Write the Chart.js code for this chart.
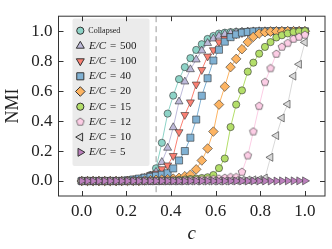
<!DOCTYPE html>
<html>
<head>
<meta charset="utf-8">
<script src="https://cdn.jsdelivr.net/npm/chart.js@4.4.0/dist/chart.umd.min.js"></script>
<style>
  html, body { margin: 0; padding: 0; background: #fff; }
  #wrap { width: 332px; height: 249px; }
</style>
</head>
<body>
<div id="wrap"><canvas id="nmiChart"></canvas></div>
<script>
// c values (40 points between 0 and 1)
const cValues = [0.000, 0.026, 0.051, 0.077, 0.103, 0.128, 0.154, 0.179, 0.205, 0.231,
                 0.256, 0.282, 0.308, 0.333, 0.359, 0.385, 0.410, 0.436, 0.462, 0.487,
                 0.513, 0.538, 0.564, 0.590, 0.615, 0.641, 0.667, 0.692, 0.718, 0.744,
                 0.769, 0.795, 0.821, 0.846, 0.872, 0.897, 0.923, 0.949, 0.974, 1.000];

// NMI for each curve
const nmiCollapsed = [0, 0, 0, 0, 0, 0, 0, 0, 0.003, 0.006,
                      0.010, 0.018, 0.040, 0.085, 0.255, 0.450, 0.570, 0.680, 0.760, 0.820,
                      0.875, 0.913, 0.948, 0.968, 0.984, 0.990, 0.994, 0.996, 0.997, 0.998,
                      0.999, 0.999, 0.999, 1.000, 1.000, 1.000, 1.000, 1.000, 1.000, 1.000];
const nmi500 = [0, 0, 0, 0, 0, 0, 0, 0, 0, 0.005,
                0.010, 0.020, 0.035, 0.060, 0.126, 0.221, 0.358, 0.530, 0.663, 0.745,
                0.810, 0.870, 0.920, 0.950, 0.968, 0.980, 0.987, 0.992, 0.995, 0.997,
                0.998, 0.999, 0.999, 1.000, 1.000, 1.000, 1.000, 1.000, 1.000, 1.000];
const nmi100 = [0, 0, 0, 0, 0, 0, 0, 0, 0.005, 0.012,
                0.020, 0.030, 0.040, 0.050, 0.080, 0.105, 0.168, 0.327, 0.442, 0.526,
                0.645, 0.742, 0.832, 0.874, 0.927, 0.950, 0.968, 0.980, 0.988, 0.993,
                0.996, 0.998, 0.999, 0.999, 1.000, 1.000, 1.000, 1.000, 1.000, 1.000];
const nmi40 = [0, 0, 0, 0, 0, 0, 0, 0, 0.005, 0.010,
               0.016, 0.022, 0.028, 0.035, 0.042, 0.052, 0.084, 0.137, 0.200, 0.289,
               0.410, 0.569, 0.686, 0.804, 0.876, 0.930, 0.960, 0.978, 0.990, 0.995,
               0.998, 0.999, 0.999, 1.000, 1.000, 1.000, 1.000, 1.000, 1.000, 1.000];
const nmi20 = [0, 0, 0, 0, 0, 0, 0, 0, 0, 0,
               0, 0.003, 0.005, 0.008, 0.010, 0.012, 0.016, 0.021, 0.032, 0.042,
               0.078, 0.137, 0.217, 0.330, 0.510, 0.630, 0.760, 0.815, 0.880, 0.927,
               0.962, 0.984, 0.993, 0.997, 0.998, 0.999, 1.000, 1.000, 1.000, 1.000];
const nmi15 = [0, 0, 0, 0, 0, 0, 0, 0, 0, 0,
               0, 0, 0, 0, 0, 0.003, 0.005, 0.007, 0.010, 0.013,
               0.016, 0.020, 0.025, 0.040, 0.086, 0.150, 0.360, 0.510, 0.605, 0.730,
               0.790, 0.850, 0.895, 0.927, 0.958, 0.973, 0.985, 0.994, 0.998, 1.000];
const nmi12 = [0, 0, 0, 0, 0, 0, 0, 0, 0, 0,
               0, 0, 0, 0, 0, 0, 0, 0, 0.003, 0.005,
               0.007, 0.009, 0.010, 0.012, 0.015, 0.020, 0.025, 0.025, 0.060, 0.170,
               0.330, 0.500, 0.660, 0.752, 0.848, 0.895, 0.920, 0.948, 0.962, 0.975];
const nmi10 = [0, 0, 0, 0, 0, 0, 0, 0, 0, 0,
               0, 0, 0, 0, 0, 0, 0, 0, 0, 0,
               0, 0, 0, 0, 0, 0, 0.003, 0.004, 0.005, 0.007,
               0.008, 0.010, 0.020, 0.158, 0.303, 0.421, 0.513, 0.700, 0.779, 0.925];
const nmi5 = [0, 0, 0, 0, 0, 0, 0, 0, 0, 0,
              0, 0, 0, 0, 0, 0, 0, 0, 0, 0,
              0, 0, 0, 0, 0, 0, 0, 0, 0, 0,
              0, 0, 0, 0, 0, 0.001, 0.001, 0.001, 0.001, 0.001];

const seriesNames = ['Collapsed', '500', '100', '40', '20', '15', '12', '10', '5'];
const xTicks = [0.0, 0.2, 0.4, 0.6, 0.8, 1.0];
const yTicks = [0.0, 0.2, 0.4, 0.6, 0.8, 1.0];
const criticalC = 1 / 3;   // dashed line

const edgeColor = '#333333';
const serif = "'Liberation Serif', 'DejaVu Serif', serif";

// pentagon marker, Chart.js has no such pointStyle
function pentagon(fill, r) {
    const size = 2 * Math.ceil(r + 1);
    const cv = document.createElement('canvas');
    cv.width = size; cv.height = size;
    const g = cv.getContext('2d');
    g.beginPath();
    for (let k = 0; k < 5; k++) {
        const ang = -Math.PI / 2 + k * 2 * Math.PI / 5;
        g.lineTo(size / 2 + r * Math.cos(ang), size / 2 + r * Math.sin(ang));
    }
    g.closePath();
    g.fillStyle = fill; g.fill();
    g.lineWidth = 0.6; g.strokeStyle = edgeColor; g.stroke();
    return cv;
}

const styles = [
    {values: nmiCollapsed, color: '#8dd3c7', style: 'circle',   radius: 3.6, rotation: 0},
    {values: nmi500,       color: '#bebada', style: 'triangle', radius: 4.6, rotation: 0},
    {values: nmi100,       color: '#fb8072', style: 'triangle', radius: 4.6, rotation: 180},
    {values: nmi40,        color: '#80b1d3', style: 'rect',     radius: 5.0, rotation: 0},
    {values: nmi20,        color: '#fdb462', style: 'rectRot',  radius: 4.8, rotation: 0},
    {values: nmi15,        color: '#b3de69', style: 'circle',   radius: 3.6, rotation: 0},
    {values: nmi12,        color: '#fccde5', style: pentagon('#fccde5', 4), radius: 4, rotation: 0},
    {values: nmi10,        color: '#d9d9d9', style: 'triangle', radius: 4.6, rotation: 270},
    {values: nmi5,         color: '#bc80bd', style: 'triangle', radius: 4.6, rotation: 90}
];

const datasets = styles.map((s, i) => ({
    label: seriesNames[i],
    data: cValues.map((c, k) => ({x: c, y: s.values[k]})),
    showLine: true,
    borderColor: s.color,
    borderWidth: 1,
    backgroundColor: s.color,
    pointStyle: s.style,
    pointRadius: s.radius,
    pointRotation: s.rotation,
    pointBackgroundColor: s.color,
    pointBorderColor: edgeColor,
    pointBorderWidth: 0.6,
    order: styles.length - i        // later curves on top, like the original
}));

// frame, inward ticks, dashed line and legend box
const framePlugin = {
    id: 'frame',
    beforeDatasetsDraw(chart) {
        const {ctx, chartArea: a, scales: {x}} = chart;
        const px = x.getPixelForValue(criticalC);
        ctx.save();
        ctx.strokeStyle = '#9a9a9a';
        ctx.lineWidth = 1;
        ctx.setLineDash([6, 4]);
        ctx.beginPath();
        ctx.moveTo(px, a.top);
        ctx.lineTo(px, a.bottom);
        ctx.stroke();
        ctx.restore();
    },
    afterDatasetsDraw(chart) {
        const {ctx, chartArea: a, scales: {x, y}} = chart;
        ctx.save();

        // legend
        const lx = 72.5, ly = 18.5, lw = 77, lh = 147.5;
        ctx.fillStyle = '#ebebeb';
        ctx.beginPath();
        ctx.roundRect(lx, ly, lw, lh, 2);
        ctx.fill();

        styles.forEach((s, i) => {
            const cy = 30.7 + i * 15.2;
            ctx.fillStyle = s.color;
            ctx.strokeStyle = edgeColor;
            Chart.helpers.drawPoint(ctx, {pointStyle: s.style, radius: s.radius, rotation: s.rotation, borderWidth: 0.6}, 80.3, cy);
            ctx.fillStyle = '#222';
            ctx.textBaseline = 'middle';
            ctx.textAlign = 'left';
            if (i === 0) {
                ctx.font = '8px ' + serif;
                ctx.fillText(seriesNames[i], 88.3, cy);
            } else {
                ctx.font = 'italic 11px ' + serif;
                ctx.fillText('E/C', 89, cy);
                ctx.font = '11px ' + serif;
                ctx.fillText('=', 110, cy);
                ctx.fillText(seriesNames[i], 120, cy);
            }
        });

        // frame
        ctx.strokeStyle = '#333';
        ctx.lineWidth = 1;
        ctx.strokeRect(a.left, a.top, a.right - a.left, a.bottom - a.top);

        // inward ticks on all four sides
        const tl = 5;
        ctx.beginPath();
        xTicks.forEach(v => {
            const px = Math.round(x.getPixelForValue(v)) + 0.5;
            ctx.moveTo(px, a.bottom); ctx.lineTo(px, a.bottom - tl);
            ctx.moveTo(px, a.top); ctx.lineTo(px, a.top + tl);
        });
        yTicks.forEach(v => {
            const py = Math.round(y.getPixelForValue(v)) + 0.5;
            ctx.moveTo(a.left, py); ctx.lineTo(a.left + tl, py);
            ctx.moveTo(a.right, py); ctx.lineTo(a.right - tl, py);
        });
        ctx.stroke();
        ctx.restore();
    }
};

const ctxEl = document.getElementById('nmiChart');
new Chart(ctxEl, {
    type: 'scatter',
    data: {datasets: datasets},
    options: {
        responsive: true,
        maintainAspectRatio: false,
        animation: false,
        layout: {padding: {left: 0, right: 7, top: 5, bottom: 0}},
        scales: {
            x: {
                type: 'linear',
                min: -0.104,
                max: 1.09,
                grid: {display: false, drawTicks: false},
                border: {display: false},
                afterBuildTicks: scale => { scale.ticks = xTicks.map(v => ({value: v})); },
                afterFit: scale => { scale.height = 53; },
                ticks: {
                    padding: 5,
                    color: '#222',
                    font: {family: serif, size: 17},
                    callback: v => v.toFixed(1)
                },
                title: {
                    display: true,
                    text: 'c',
                    color: '#222',
                    font: {family: serif, size: 19, style: 'italic'},
                    padding: {top: 0, bottom: 4}
                }
            },
            y: {
                min: -0.1,
                max: 1.1,
                grid: {display: false, drawTicks: false},
                border: {display: false},
                afterBuildTicks: scale => { scale.ticks = yTicks.map(v => ({value: v})); },
                afterFit: scale => { scale.width = 58.5; },
                ticks: {
                    padding: 6,
                    color: '#222',
                    font: {family: serif, size: 17},
                    callback: v => v.toFixed(1)
                },
                title: {
                    display: true,
                    text: 'NMI',
                    color: '#222',
                    font: {family: serif, size: 18},
                    padding: {top: 2, bottom: 0}
                }
            }
        },
        plugins: {
            legend: {display: false},
            tooltip: {enabled: false}
        }
    },
    plugins: [framePlugin]
});
</script>
</body>
</html>
